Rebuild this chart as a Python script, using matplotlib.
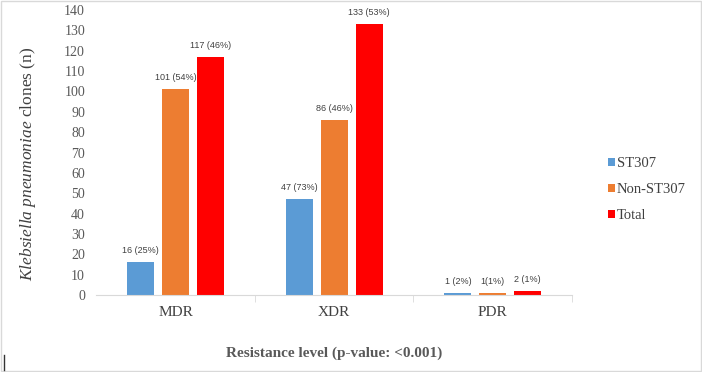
import matplotlib
matplotlib.use("Agg")
import matplotlib.pyplot as plt
import numpy as np
from matplotlib.patches import Rectangle
from matplotlib.lines import Line2D

categories = ["MDR", "XDR", "PDR"]
series_names = ["ST307", "Non-ST307", "Total"]
st307 = [16, 47, 1]
non_st307 = [101, 86, 1]
total = [117, 133, 2]
labels_st307 = ["16 (25%)", "47 (73%)", "1 (2%)"]
labels_non = ["101 (54%)", "86 (46%)", "1(1%)"]
labels_total = ["117 (46%)", "133 (53%)", "2 (1%)"]

colors = ["#5b9bd5", "#ed7d31", "#ff0000"]

plt.rcParams["mathtext.fontset"] = "custom"
plt.rcParams["mathtext.it"] = "Liberation Serif:italic"
plt.rcParams["mathtext.rm"] = "Liberation Serif"

fig = plt.figure(figsize=(7.02, 3.72), dpi=100)
ax = fig.add_axes([0.137, 0.207, 0.678, 0.766])

x = np.arange(len(categories))
width = 0.17
step = 0.22
series = [st307, non_st307, total]
texts = [labels_st307, labels_non, labels_total]
for i, (vals, labs) in enumerate(zip(series, texts)):
    pos = x + (i - 1) * step
    bars = ax.bar(pos, vals, width, color=colors[i], label=series_names[i])
    for b, lab in zip(bars, labs):
        ax.annotate(lab, (b.get_x() + b.get_width() / 2, b.get_height()),
                    xytext=(0, 5), textcoords="offset points",
                    ha="center", va="bottom", fontsize=6.5,
                    family="Liberation Sans", color="#404040")

ax.set_xlim(-0.5, 2.5)
ax.set_ylim(0, 140)
ax.set_yticks(np.arange(0, 141, 10))
ax.set_xticks(x)
ax.set_xticklabels(categories, family="Liberation Serif", fontsize=11, color="#404040")
ax.set_xticks([0.5, 1.5, 2.5], minor=True)
ax.tick_params(axis="x", which="major", length=0, pad=8)
ax.tick_params(axis="x", which="minor", length=5, color="#d9d9d9", direction="out")
ax.tick_params(axis="y", length=0, pad=8, labelcolor="#595959", labelsize=10)
for lab in ax.get_yticklabels():
    lab.set_family("Liberation Serif")

for s in ["top", "right", "left"]:
    ax.spines[s].set_visible(False)
ax.spines["bottom"].set_color("#d9d9d9")

ax.set_ylabel(r"$\it{Klebsiella\ pneumoniae}$ clones (n)", family="Liberation Serif",
              fontsize=12.5, color="#404040")
ax.yaxis.set_label_coords(-0.123, 0.46)
ax.set_xlabel("Resistance level (p-value: <0.001)", family="Liberation Serif",
              fontsize=11, fontweight="bold", color="#595959", labelpad=20)

leg = ax.legend(loc="upper left", bbox_to_anchor=(1.047, 0.53), frameon=False,
                prop={"family": "Liberation Serif", "size": 10.5},
                handlelength=0.5, handleheight=0.5, handletextpad=0.15,
                labelspacing=0.9)
for t in leg.get_texts():
    t.set_color("#404040")

fig.patches.append(Rectangle((0.002, 0.003), 0.996, 0.994, transform=fig.transFigure,
                             fill=False, edgecolor="#d9d9d9", linewidth=1))
fig.lines.append(Line2D([0.006, 0.006], [0.005, 0.045], transform=fig.transFigure,
                        color="#333333", linewidth=1))

fig.savefig("out.png", dpi=100)
